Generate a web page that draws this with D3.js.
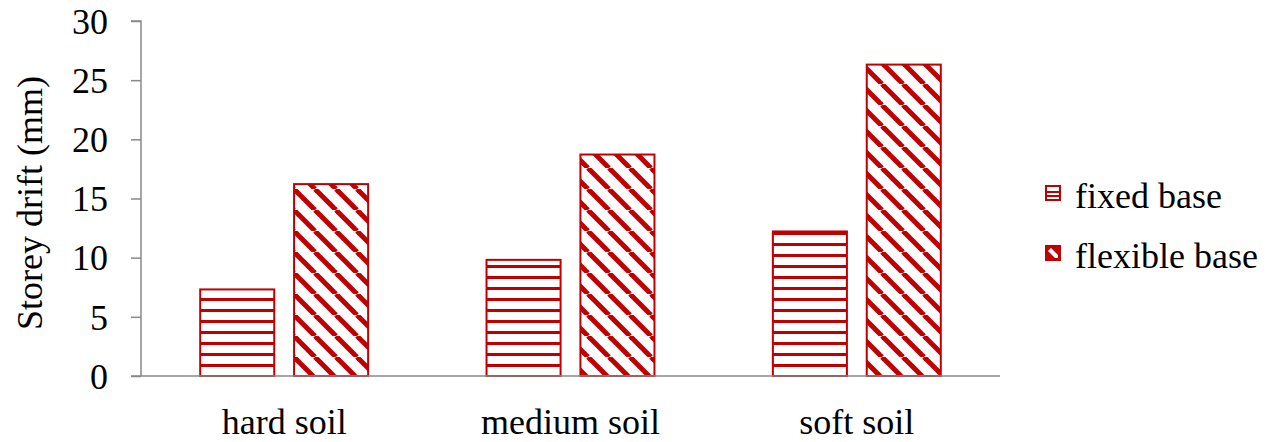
<!DOCTYPE html>
<html><head><meta charset="utf-8">
<script src="https://cdn.jsdelivr.net/npm/d3@7"></script>
</head><body style="margin:0">
<script>
const categories = ["hard soil", "medium soil", "soft soil"];
const seriesNames = ["fixed base", "flexible base"];
const fixedBase = [7.4, 9.9, 12.3];
const flexibleBase = [16.3, 18.8, 26.4];
const yTicks = [0, 5, 10, 15, 20, 25, 30];
const yTitle = "Storey drift (mm)";

const W = 1281, H = 442;
const red = "#C00000", axisCol = "#898989";
const FONT = "\"Liberation Serif\", \"Times New Roman\", Tinos, serif";
const svg = d3.select("body").append("svg").attr("width", W).attr("height", H)
  .style("font-family", FONT, "important");
const defs = svg.append("defs");

const ph = defs.append("pattern").attr("id","hstripe").attr("patternUnits","userSpaceOnUse")
  .attr("width", 8).attr("height", 11).attr("y", 1);
ph.append("rect").attr("width",8).attr("height",11).attr("fill","#fff");
ph.append("rect").attr("y",0).attr("width",8).attr("height",3).attr("fill",red);
const P = 21;
const pd = defs.append("pattern").attr("id","dstripe").attr("patternUnits","userSpaceOnUse")
  .attr("width", P).attr("height", P);
pd.append("rect").attr("width",P).attr("height",P).attr("fill","#fff");
[-P, 0, P].forEach(dx => {
  pd.append("line").attr("x1", dx).attr("y1", 0).attr("x2", dx + P).attr("y2", P)
    .attr("stroke", red).attr("stroke-width", 5);
});

const x0 = 141, x1 = 1000, yTop = 21, yBot = 376;
const y = d3.scaleLinear().domain([0, 30]).range([yBot, yTop]);
const x = d3.scaleBand().domain(categories).range([x0, x1]).paddingInner(0).paddingOuter(0);
const xs = d3.scaleBand().domain(seriesNames).range([0, x.bandwidth()]).paddingInner(0.19).paddingOuter(0.62);

const fills = {"fixed base": "url(#hstripe)", "flexible base": "url(#dstripe)"};
const data = categories.flatMap((c, i) => [
  {c, s: "fixed base", v: fixedBase[i]},
  {c, s: "flexible base", v: flexibleBase[i]}
]);

svg.append("g").selectAll("rect").data(data).join("rect")
  .attr("x", d => x(d.c) + xs(d.s) + 1)
  .attr("y", d => y(d.v) + 1)
  .attr("width", xs.bandwidth() - 2)
  .attr("height", d => y(0) - y(d.v) - 1)
  .attr("fill", d => fills[d.s])
  .attr("stroke", red).attr("stroke-width", 2);

const ya = svg.append("g").attr("transform", `translate(${x0},0)`)
  .call(d3.axisLeft(y).tickValues(yTicks).tickSize(10).tickPadding(23).tickFormat(d3.format("d")));
ya.select(".domain").attr("stroke", axisCol).attr("stroke-width", 1.5).attr("d", `M-10,${yTop}H0V${yBot}`);
ya.selectAll(".tick line").attr("stroke", axisCol).attr("stroke-width", 1.5);
ya.selectAll(".tick text").attr("fill","#000").attr("dy","0.34em");

const xa = svg.append("g").attr("transform", `translate(0,${yBot})`)
  .call(d3.axisBottom(x).tickSize(0).tickPadding(0));
xa.select(".domain").attr("stroke", axisCol).attr("stroke-width", 1.5).attr("d", `M${x0-10},0H${x1}`);
xa.selectAll(".tick text").attr("fill","#000").attr("y", 58).attr("dy", 0);

const title = svg.append("text").attr("transform", "translate(42,203) rotate(-90)")
  .attr("text-anchor", "middle").text(yTitle);

const legY = [185, 245];
seriesNames.forEach((s, i) => {
  const g = svg.append("g").attr("transform", `translate(1045,${legY[i]})`);
  if (i === 0) {
    g.append("rect").attr("x",1).attr("y",1).attr("width",14).attr("height",14)
      .attr("fill", "#fff").attr("stroke", red).attr("stroke-width", 2);
    g.append("rect").attr("x",1).attr("y",6).attr("width",14).attr("height",2).attr("fill", red);
    g.append("rect").attr("x",1).attr("y",10).attr("width",14).attr("height",2).attr("fill", red);
  } else {
    g.append("rect").attr("x",1).attr("y",1).attr("width",14).attr("height",14)
      .attr("fill", red).attr("stroke", red).attr("stroke-width", 2);
    g.append("path").attr("d","M3,6 L10,13 L13,13 L13,10 L6,3 Z").attr("fill","#fff");
  }
  svg.append("text").attr("x", 1075).attr("y", legY[i] + 23).text(s);
});

svg.selectAll("text")
  .style("font-family", FONT, "important")
  .style("font-size", "36px", "important");
</script>
</body></html>
